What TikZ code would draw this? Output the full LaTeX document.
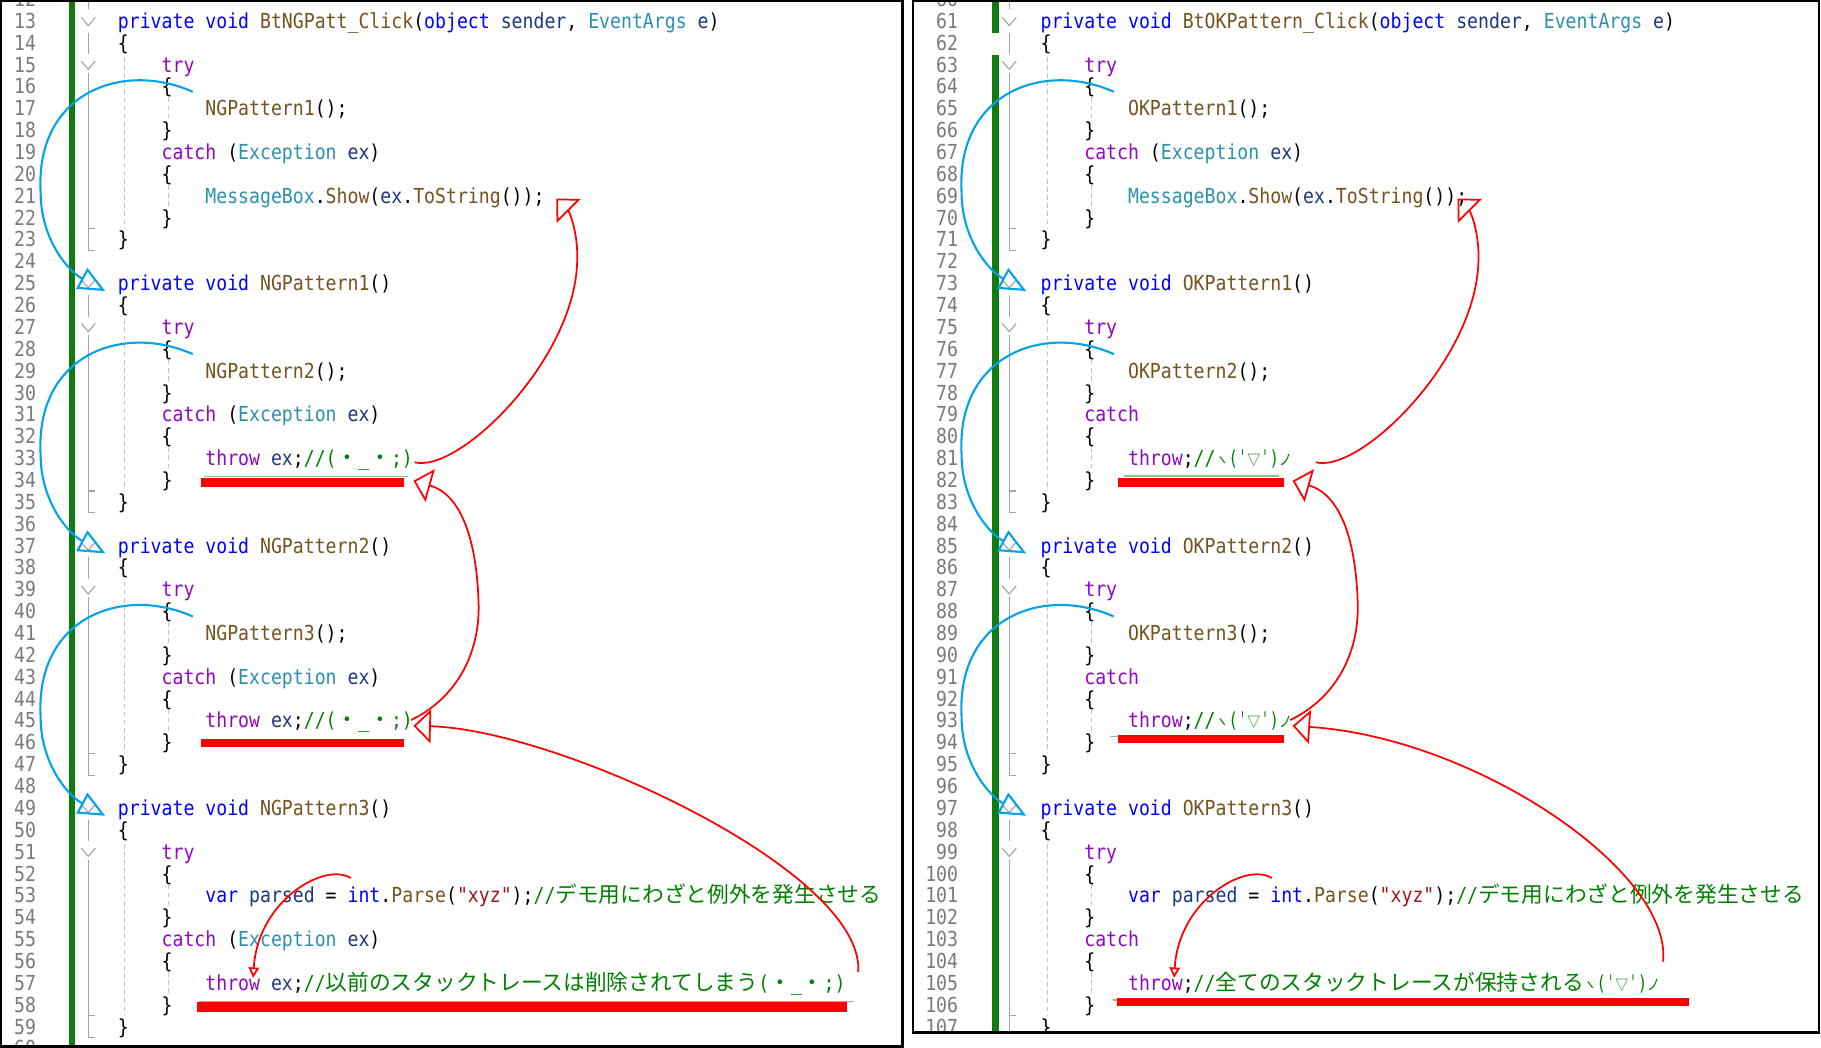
\documentclass[tikz,border=0pt]{standalone}
\usepackage{fontspec}
\usepackage{graphicx}
\usetikzlibrary{arrows.meta}
\newfontfamily\codefont[FakeStretch=0.879]{DejaVu Sans Mono}
\newfontfamily\jpfont{Noto Sans CJK JP}
\definecolor{ckw}{HTML}{0000FF}
\definecolor{cctl}{HTML}{8F08C4}
\definecolor{cmeth}{HTML}{74531F}
\definecolor{ctype}{HTML}{2B91AF}
\definecolor{cvar}{HTML}{1F377F}
\definecolor{ccom}{HTML}{008000}
\definecolor{cstr}{HTML}{A31515}
\definecolor{cnum}{HTML}{7A7A7A}
\definecolor{arcblue}{RGB}{0,162,232}
\definecolor{vsgreen}{RGB}{16,124,16}
\definecolor{foldgray}{HTML}{A5A5A5}
\definecolor{guidegray}{HTML}{C4C4C4}
\definecolor{sqgreen}{HTML}{93C47D}
\newcommand\Kw[1]{\textcolor{ckw}{#1}}
\newcommand\Ct[1]{\textcolor{cctl}{#1}}
\newcommand\Me[1]{\textcolor{cmeth}{#1}}
\newcommand\Ty[1]{\textcolor{ctype}{#1}}
\newcommand\Va[1]{\textcolor{cvar}{#1}}
\newcommand\Co[1]{\textcolor{ccom}{#1}}
\newcommand\St[1]{\textcolor{cstr}{#1}}
\newcommand\J[1]{{\fontsize{9.35pt}{11pt}\jpfont #1}}
\newcommand\Js[1]{{\fontsize{6.5pt}{7pt}\jpfont #1}}
\newcommand\emo{\resizebox{32.9pt}{\height}{\Js{ヽ}(ˈ\Js{▽}ˈ)\Js{ノ}}}
\tikzset{
  code/.style={anchor=base west, inner sep=0pt, outer sep=0pt, font=\fontsize{8.9pt}{10pt}\codefont},
  lnum/.style={anchor=base east, inner sep=0pt, outer sep=0pt, text=cnum, font=\fontsize{8.9pt}{10pt}\codefont},
  fold/.style={draw=foldgray, line width=0.5pt},
  guide/.style={draw=guidegray, line width=0.5pt, dash pattern=on 2pt off 1.5pt},
  bluearc/.style={draw=arcblue, line width=0.9pt, -{Triangle[open, length=11.5pt, width=10pt]}},
  redarc/.style={draw=red, line width=0.75pt, -{Triangle[open, length=7.5pt, width=14.5pt]}},
  smallred/.style={draw=red, line width=0.75pt, -{Triangle[open, length=4.5pt, width=4.5pt]}},
  redbar/.style={fill=red},
  squig/.style={draw=sqgreen, line width=0.5pt},
  panel/.style={draw=black, line width=1pt},
}
\newcommand\CL[5]{\node[code] (#1) at ({#2+9.42*(#4)},{24.4+18.826*(#3)}) {#5};}
\newcommand\skel[3]{%
  \CL{#1a}{#2}{#3+1}{0}{\{}%
  \CL{#1b}{#2}{#3+2}{4}{\Ct{try}}%
  \CL{#1c}{#2}{#3+3}{4}{\{}%
  \CL{#1d}{#2}{#3+5}{4}{\}}%
  \CL{#1e}{#2}{#3+7}{4}{\{}%
  \CL{#1f}{#2}{#3+9}{4}{\}}%
  \CL{#1g}{#2}{#3+10}{0}{\}}%
}
\newcommand\fold[2]{%
  \draw[fold] ({#1-6},{#2-3}) -- (#1,{#2+4}) -- ({#1+6},{#2-3});
  \draw[fold] (#1,{#2+10}) -- (#1,{#2+28.65});
  \draw[fold] ({#1-6},{#2+34.65}) -- (#1,{#2+41.65}) -- ({#1+6},{#2+34.65});
  \draw[fold] (#1,{#2+44.65}) -- (#1,{#2+197.7}) -- ({#1+6},{#2+197.7});
  \draw[fold] (#1,{#2+178.8}) -- ({#1+6},{#2+178.8});
}
\newcommand\guides[3]{%
  \draw[guide] (#1,{#3+31}) -- (#1,{#3+178.8});
  \draw[guide] (#2,{#3+65.9}) -- (#2,{#3+84.7});
  \draw[guide] (#2,{#3+141.2}) -- (#2,{#3+160});
}
\begin{document}
\begin{tikzpicture}[x=0.5pt,y=-0.5pt]
\useasboundingbox (0,0) rectangle (1568,902);
\fill[white] (0,0) rectangle (1568,902);

% ================= LEFT PANEL =================
\begin{scope}
\clip (1,1) rectangle (777,901);
\fill[vsgreen] (59,0) rectangle (65,902);
\draw[fold] (76,0) -- (76,8);
\foreach \b in {0,1,2,3} {\fold{76}{18+225.9*\b}}
\foreach \b in {0,1,2,3} {\guides{107.5}{145}{18+225.9*\b}}
\foreach \n in {12,...,60} {\node[lnum] (nl\n) at (31,{24.4+18.826*(\n-13)}) {\n};}

\CL{L13}{101.5}{0}{0}{\Kw{private} \Kw{void} \Me{BtNGPatt\_Click}(\Kw{object} \Va{sender}, \Ty{EventArgs} \Va{e})}
\skel{LA}{101.5}{0}
\CL{L17}{101.5}{4}{8}{\Me{NGPattern1}();}
\CL{L19}{101.5}{6}{4}{\Ct{catch} (\Ty{Exception} \Va{ex})}
\CL{L21}{101.5}{8}{8}{\Ty{MessageBox}.\Me{Show}(\Va{ex}.\Me{ToString}());}

\CL{L25}{101.5}{12}{0}{\Kw{private} \Kw{void} \Me{NGPattern1}()}
\skel{LB}{101.5}{12}
\CL{L29}{101.5}{16}{8}{\Me{NGPattern2}();}
\CL{L31}{101.5}{18}{4}{\Ct{catch} (\Ty{Exception} \Va{ex})}
\CL{L33}{101.5}{20}{8}{\Ct{throw} \Va{ex};\Co{//(\J{・}\_\J{・};)}}

\CL{L37}{101.5}{24}{0}{\Kw{private} \Kw{void} \Me{NGPattern2}()}
\skel{LC}{101.5}{24}
\CL{L41}{101.5}{28}{8}{\Me{NGPattern3}();}
\CL{L43}{101.5}{30}{4}{\Ct{catch} (\Ty{Exception} \Va{ex})}
\CL{L45}{101.5}{32}{8}{\Ct{throw} \Va{ex};\Co{//(\J{・}\_\J{・};)}}

\CL{L49}{101.5}{36}{0}{\Kw{private} \Kw{void} \Me{NGPattern3}()}
\skel{LD}{101.5}{36}
\CL{L53}{101.5}{40}{8}{\Kw{var} \Va{parsed} = \Kw{int}.\Me{Parse}(\St{"xyz"});\Co{//\J{デモ用にわざと例外を発生させる}}}
\CL{L55}{101.5}{42}{4}{\Ct{catch} (\Ty{Exception} \Va{ex})}
\CL{L57}{101.5}{44}{8}{\Ct{throw} \Va{ex};\Co{//\J{以前のスタックトレースは削除されてしまう}(\J{・}\_\J{・};)}}

% underlines
\draw[squig] (176,410.5) -- (351,410.5);
\draw[squig] (171,862) -- (735,862);
\fill[redbar] (173,412) rectangle (348,419);
\fill[redbar] (173,636) rectangle (348,643);
\fill[redbar] (170,863) rectangle (729,871);

% blue arcs
\foreach \b in {0,1,2} {
  \begin{scope}[shift={(0,{225.9*\b})}]
    \coordinate (lbs\b) at (166,79);
    \coordinate (lbm\b) at (35,166);
    \coordinate (lbe\b) at (90.6,250.6);
    \draw[bluearc] (lbs\b) .. controls (105,52) and (30,80) .. (lbm\b) .. controls (35,205) and (58,233) .. (lbe\b);
  \end{scope}
}
% red arcs
\coordinate (r1s) at (357,398); \coordinate (r1m) at (497,225); \coordinate (r1e) at (479,171);
\draw[redarc] (r1s) .. controls (395,408) and (495,310) .. (r1m) .. controls (498,200) and (490,182) .. (r1e);
\coordinate (r2s) at (354,620); \coordinate (r2m) at (412,517); \coordinate (r2e) at (356,414);
\draw[redarc] (r2s) .. controls (395,600) and (414,560) .. (r2m) .. controls (410,460) and (395,425) .. (r2e);
\coordinate (r3s) at (739,837); \coordinate (r3e) at (356,625);
\draw[redarc] (r3s) .. controls (745,750) and (480,628) .. (r3e);
\coordinate (r4s) at (302,756); \coordinate (r4e) at (218,842);
\draw[smallred] (r4s) .. controls (280,742) and (222,775) .. (r4e);
\end{scope}
\draw[panel] (1,1) rectangle (777,901);

% ================= RIGHT PANEL =================
\begin{scope}
\clip (786,1) rectangle (1566,889);
\fill[vsgreen] (854,0) rectangle (860,28);
\fill[vsgreen] (854,47) rectangle (860,890);
\draw[fold] (869,0) -- (869,8);
\foreach \b in {0,1,2,3} {\fold{869}{18+225.9*\b}}
\foreach \b in {0,1,2,3} {\guides{901.8}{940}{18+225.9*\b}}
\foreach \n in {60,...,107} {\node[lnum] (nr\n) at (825,{24.4+18.826*(\n-61)}) {\n};}

\CL{R61}{896}{0}{0}{\Kw{private} \Kw{void} \Me{BtOKPattern\_Click}(\Kw{object} \Va{sender}, \Ty{EventArgs} \Va{e})}
\skel{RA}{896}{0}
\CL{R65}{896}{4}{8}{\Me{OKPattern1}();}
\CL{R67}{896}{6}{4}{\Ct{catch} (\Ty{Exception} \Va{ex})}
\CL{R69}{896}{8}{8}{\Ty{MessageBox}.\Me{Show}(\Va{ex}.\Me{ToString}());}

\CL{R73}{896}{12}{0}{\Kw{private} \Kw{void} \Me{OKPattern1}()}
\skel{RB}{896}{12}
\CL{R77}{896}{16}{8}{\Me{OKPattern2}();}
\CL{R79}{896}{18}{4}{\Ct{catch}}
\CL{R81}{896}{20}{8}{\Ct{throw};\Co{//\emo}}

\CL{R85}{896}{24}{0}{\Kw{private} \Kw{void} \Me{OKPattern2}()}
\skel{RC}{896}{24}
\CL{R89}{896}{28}{8}{\Me{OKPattern3}();}
\CL{R91}{896}{30}{4}{\Ct{catch}}
\CL{R93}{896}{32}{8}{\Ct{throw};\Co{//\emo}}

\CL{R97}{896}{36}{0}{\Kw{private} \Kw{void} \Me{OKPattern3}()}
\skel{RD}{896}{36}
\CL{R101}{896}{40}{8}{\Kw{var} \Va{parsed} = \Kw{int}.\Me{Parse}(\St{"xyz"});\Co{//\J{デモ用にわざと例外を発生させる}}}
\CL{R103}{896}{42}{4}{\Ct{catch}}
\CL{R105}{896}{44}{8}{\Ct{throw};\Co{//\J{全てのスタックトレースが保持される}\emo}}

% underlines
\draw[squig] (968,409.8) -- (1101,409.8);
\draw[squig] (956,634) -- (963,634);
\draw[squig] (958,861) -- (963,861);
\fill[redbar] (963,412) rectangle (1105.5,419);
\fill[redbar] (963,633) rectangle (1105.5,640);
\fill[redbar] (962,859) rectangle (1454,866);

% blue arcs
\foreach \b in {0,1,2} {
  \begin{scope}[shift={(793,{225.9*\b})}]
    \coordinate (rbs\b) at (166,79);
    \coordinate (rbm\b) at (35,166);
    \coordinate (rbe\b) at (90.6,250.6);
    \draw[bluearc] (rbs\b) .. controls (105,52) and (30,80) .. (rbm\b) .. controls (35,205) and (58,233) .. (rbe\b);
  \end{scope}
}
% red arcs
\coordinate (s1s) at (1133,398); \coordinate (s1m) at (1273,225); \coordinate (s1e) at (1255,171);
\draw[redarc] (s1s) .. controls (1171,408) and (1271,310) .. (s1m) .. controls (1274,200) and (1266,182) .. (s1e);
\coordinate (s2s) at (1111,620); \coordinate (s2m) at (1169,517); \coordinate (s2e) at (1113,414);
\draw[redarc] (s2s) .. controls (1152,600) and (1171,560) .. (s2m) .. controls (1167,460) and (1152,425) .. (s2e);
\coordinate (s3s) at (1432,828); \coordinate (s3e) at (1113,625);
\draw[redarc] (s3s) .. controls (1440,750) and (1270,635) .. (s3e);
\coordinate (s4s) at (1095,756); \coordinate (s4e) at (1011,842);
\draw[smallred] (s4s) .. controls (1073,742) and (1015,775) .. (s4e);
\end{scope}
\draw[panel] (786,1) rectangle (1566,889);
\end{tikzpicture}
\end{document}
